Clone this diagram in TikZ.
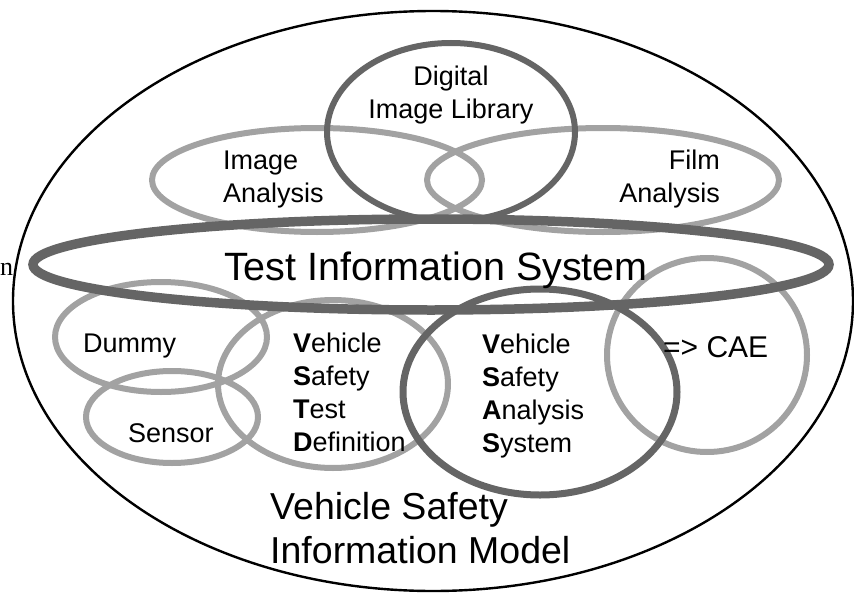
\documentclass[tikz,border=0pt]{standalone}
\usepackage{fontspec}
\setmainfont{Liberation Sans}
\newfontfamily\serifn{Liberation Serif}
\definecolor{darkring}{HTML}{656565}
\definecolor{lightring}{HTML}{A2A2A2}
\tikzset{
  outer/.style={draw=black, line width=2.4pt},
  lightring/.style={draw=lightring, line width=6pt},
  darkring/.style={draw=darkring, line width=7pt},
  tisring/.style={draw=darkring, line width=9.5pt},
  lbl/.style={inner sep=0pt, font=\fontsize{27}{33}\selectfont},
}
\begin{document}
\begin{tikzpicture}[x=1pt,y=-1pt]
\useasboundingbox (0,0) rectangle (854,594);
% outer model ellipse
\draw[outer] (433,301) ellipse [x radius=420, y radius=290];
% light rings
\draw[lightring] (317,180) ellipse [x radius=165, y radius=52];
\draw[lightring] (603,180) ellipse [x radius=176, y radius=52];
\draw[lightring] (161,337) ellipse [x radius=106, y radius=55];
\draw[lightring] (172,417) ellipse [x radius=86, y radius=46];
\draw[lightring] (333,384) ellipse [x radius=115, y radius=84];
\draw[lightring] (707,355) ellipse [x radius=100, y radius=97];
% dark rings
\draw[darkring, line width=6pt] (451,132) ellipse [x radius=124, y radius=89];
\draw[darkring] (540,392) ellipse [x radius=137, y radius=103];
\draw[tisring] (431,264.5) ellipse [x radius=398, y radius=45.5];
% labels (multi-line nodes: base anchor = last line)
\node[lbl, align=center, anchor=base] (dil) at (451,118) {Digital\\Image Library};
\node[lbl, align=left, anchor=base west] (ia) at (223,202) {Image\\Analysis};
\node[lbl, align=right, anchor=base east] (fa) at (720,202) {Film\\Analysis};
\node[inner sep=0pt, font=\fontsize{39.5}{44}\selectfont, anchor=base] (tis) at (436,280) {Test Information System};
\node[lbl, anchor=base west] (dummy) at (83,352) {Dummy};
\node[lbl, anchor=base west] (sensor) at (128,442) {Sensor};
\node[lbl, align=left, anchor=base west] (vstd) at (293,451) {\textbf{V}ehicle\\\textbf{S}afety\\\textbf{T}est\\\textbf{D}efinition};
\node[lbl, align=left, anchor=base west] (vsas) at (482,452) {\textbf{V}ehicle\\\textbf{S}afety\\\textbf{A}nalysis\\\textbf{S}ystem};
\node[inner sep=0pt, font=\fontsize{30}{36}\selectfont, anchor=base west] (cae) at (663,357) {=> CAE};
\node[inner sep=0pt, font=\fontsize{37.5}{44}\selectfont, align=left, anchor=base west] (vsim) at (270,563) {Vehicle Safety\\Information Model};
\node[inner sep=0pt, font=\serifn\fontsize{26}{30}\selectfont, anchor=base west] (cut) at (0,275) {n};
\end{tikzpicture}
\end{document}
